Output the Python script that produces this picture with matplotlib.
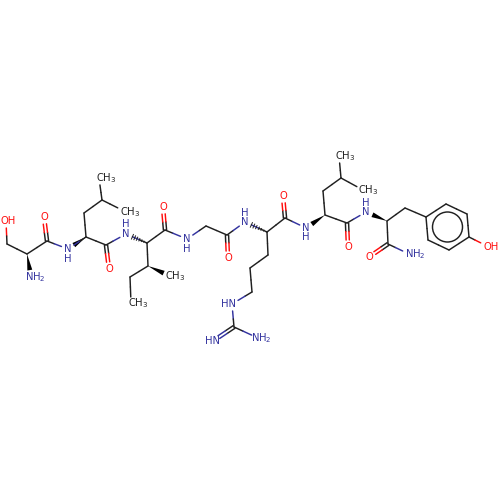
import matplotlib
matplotlib.use("Agg")
import matplotlib.pyplot as plt
import numpy as np
from matplotlib.patches import Polygon, Circle

BLACK = "#202020"
RED = "#ff0d0d"
BLUE = "#33339f"
ELEM = {"C": BLACK, "N": BLUE, "O": RED}

atom_x = [6, 7, 27, 31, 47, 44, 68, 86, 84, 102, 99, 124, 106, 109, 126, 147, 165, 163, 148, 170, 130, 131,
          187, 206, 227, 228, 245, 267, 268, 250, 252, 232, 234, 213, 258, 285, 283, 306, 325, 323, 341, 339,
          363, 347, 348, 366, 387, 405, 426, 446, 467, 469, 449, 428, 487, 388, 369, 409]
atom_y = [221, 244, 254, 277, 241, 217, 249, 237, 213, 200, 178, 211, 245, 269, 234, 243, 230, 207, 266, 276, 277, 303,
          239, 226, 235, 258, 222, 232, 255, 268, 292, 304, 327, 341, 338, 218, 196, 228, 215, 191, 178, 156,
          190, 223, 247, 212, 221, 208, 217, 204, 214, 237, 250, 240, 246, 244, 257, 254]
atom_elem = list("OCCNCONCCCCCCONCCOCCCCNCCONCCCCNCNNCONCCCCCCONCCCCCCCCOCON")
atom_trim = {0: 7, 3: 7, 5: 7, 6: 7, 10: 7, 11: 7, 13: 7, 14: 7, 17: 7, 19: 7, 21: 6, 22: 7, 25: 7, 26: 7,
             31: 7, 33: 7, 34: 7, 36: 7, 37: 7, 41: 7, 42: 7, 44: 7, 45: 7, 54: 7, 56: 7, 57: 7}

single_bonds = [(0, 1), (1, 2), (2, 4), (4, 6), (6, 7), (7, 8), (8, 9), (9, 10), (9, 11), (7, 12), (12, 14),
                (14, 15), (15, 16), (15, 18), (18, 20), (20, 21), (16, 22), (22, 23), (23, 24), (24, 26), (26, 27),
                (27, 28), (28, 29), (29, 30), (30, 31), (31, 32), (32, 34), (27, 35), (35, 37), (38, 39), (39, 40),
                (40, 41), (40, 42), (38, 43), (43, 45), (46, 47), (47, 48), (48, 49), (49, 50), (50, 51), (51, 52),
                (52, 53), (53, 48), (51, 54), (46, 55), (55, 57)]
double_bonds = [(4, 5), (12, 13), (16, 17), (24, 25), (32, 33), (35, 36), (43, 44), (55, 56)]
wedge_bonds = [(2, 3), (7, 6), (18, 19), (38, 37), (46, 45)]
hash_bonds = [(15, 14), (27, 26)]
ring_atoms = [48, 49, 50, 51, 52, 53]

label_x = [8, 35.5, 44, 68, 68, 106, 130, 126, 126, 109, 138.5, 163, 175, 187, 187, 228, 245, 245,
           229, 213, 261.5, 283, 306, 306, 345, 368, 348, 366, 366, 491.5, 369, 415.5]
label_y = [221, 277, 217, 249, 259, 178, 212, 234, 224, 269, 303, 207, 276, 239, 249, 258, 222, 213,
           304, 341, 338, 196, 228, 237, 156, 190, 247, 212, 203, 247, 257, 254]
label_text = ["OH", "NH$_2$", "O", "N", "H", "CH$_3$", "CH$_3$", "N", "H", "O", "CH$_3$", "O", "CH$_3$", "N", "H",
              "O", "N", "H", "HN", "HN", "NH$_2$", "O", "N", "H", "CH$_3$", "CH$_3$", "O", "N", "H", "OH", "O", "NH$_2$"]
label_elem = list("ONONNCCNNOCOCNNONNNNNONNCCONNOON")

fig = plt.figure(figsize=(5, 5), dpi=100)
ax = fig.add_axes([0, 0, 1, 1])
ax.set_xlim(0, 500)
ax.set_ylim(500, 0)
ax.axis("off")

xy = np.column_stack([atom_x, atom_y]).astype(float)
LW = 1.05


def ends(a, b):
    p, q = xy[a], xy[b]
    u = (q - p) / np.linalg.norm(q - p)
    return p + u * atom_trim.get(a, 0), q - u * atom_trim.get(b, 0)


def two_tone(p, q, a, b):
    m = (p + q) / 2
    ax.plot([p[0], m[0]], [p[1], m[1]], color=ELEM[atom_elem[a]], lw=LW, solid_capstyle="round")
    ax.plot([m[0], q[0]], [m[1], q[1]], color=ELEM[atom_elem[b]], lw=LW, solid_capstyle="round")


for a, b in single_bonds:
    p, q = ends(a, b)
    two_tone(p, q, a, b)

for a, b in double_bonds:
    p, q = ends(a, b)
    u = (q - p) / np.linalg.norm(q - p)
    n = np.array([-u[1], u[0]]) * 1.6
    two_tone(p + n, q + n, a, b)
    two_tone(p - n, q - n, a, b)

for a, b in wedge_bonds:
    p, q = ends(a, b)
    u = (q - p) / np.linalg.norm(q - p)
    n = np.array([-u[1], u[0]]) * 2.5
    ax.add_patch(Polygon([xy[a], q + n, q - n], closed=True, fc="#000000", ec="none"))

for a, b in hash_bonds:
    p, q = ends(a, b)
    u = (q - p) / np.linalg.norm(q - p)
    n = np.array([-u[1], u[0]])
    for t in np.linspace(0.05, 1, 7):
        c = p + (q - p) * t
        ax.plot(*zip(c + n * 2.5 * t, c - n * 2.5 * t), color=BLACK, lw=0.7)

ring = xy[ring_atoms]
ax.add_patch(Circle(ring.mean(axis=0), 15, fc="none", ec=BLACK, lw=LW))

for x, y, t, e in zip(label_x, label_y, label_text, label_elem):
    ax.text(x, y, t, color=ELEM[e], fontsize=7.2, ha="center", va="center", family="DejaVu Sans")

fig.savefig("out.png", dpi=100, facecolor="white")
